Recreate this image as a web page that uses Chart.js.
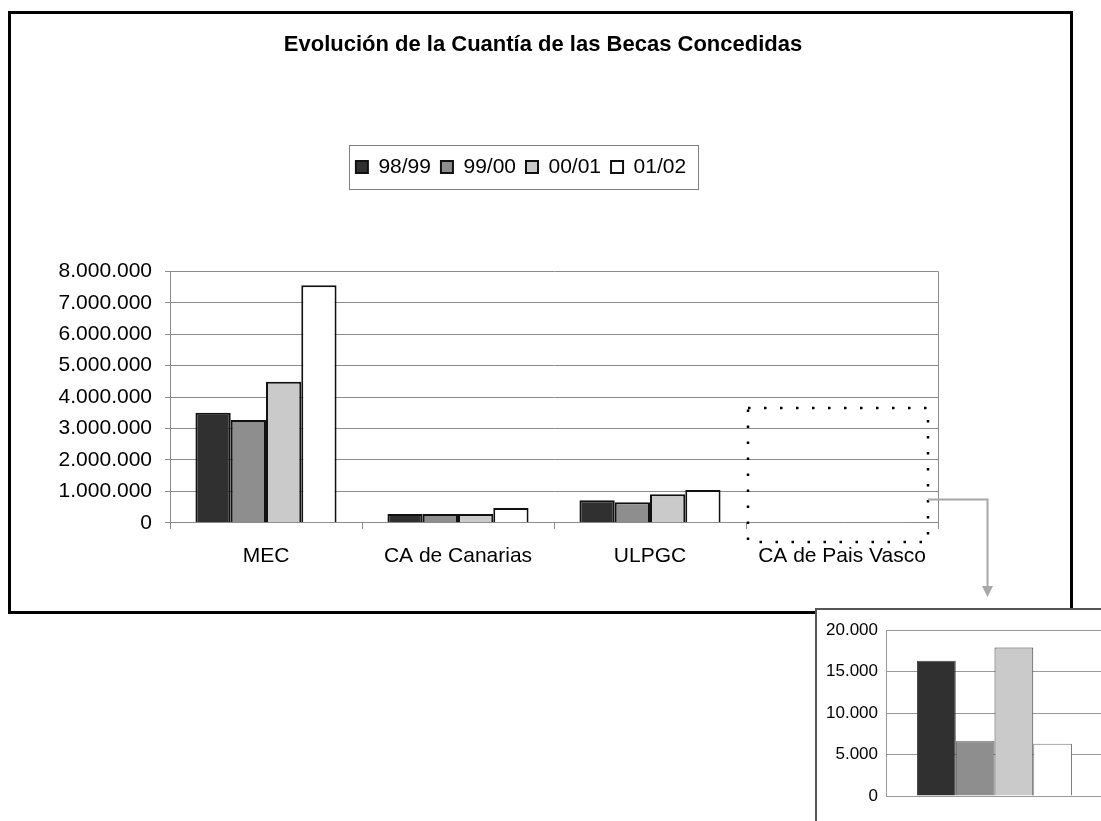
<!DOCTYPE html>
<html><head><meta charset="utf-8">
<script src="https://cdn.jsdelivr.net/npm/chart.js@4.4.1/dist/chart.umd.min.js"></script>
<style>
html,body{margin:0;padding:0;background:#fff;width:1101px;height:821px;overflow:hidden;position:relative}
#mainBox{position:absolute;left:8px;top:11px;width:1065px;height:603px;border:3px solid #000;box-sizing:border-box;background:#fff}
#insetBox{position:absolute;left:815px;top:608px;width:320px;height:240px;border:2px solid #555;box-sizing:border-box;background:#fff}
canvas{display:block}
</style></head><body>
<div id="mainBox"><canvas id="main" width="1059" height="597"></canvas></div>
<div id="insetBox"><canvas id="inset" width="300" height="230"></canvas></div>
<script>
const TITLE = 'Evolución de la Cuantía de las Becas Concedidas';
const CATEGORIES = ['MEC', 'CA de Canarias', 'ULPGC', 'CA de Pais Vasco'];
const SERIES_NAMES = ['98/99', '99/00', '00/01', '01/02'];
const S_9899 = [3500000, 280000, 720000, 16300];
const S_9900 = [3270000, 280000, 650000, 6600];
const S_0001 = [4490000, 280000, 910000, 17900];
const S_0102 = [7560000, 470000, 1040000, 6300];
const Y_TICK_STEP = 1000000, Y_MAX = 8000000;
const INSET_TICK_STEP = 5000, INSET_MAX = 20000;
const INSET_INDEX = 3;               // category shown enlarged
const ZOOM_BOX_TOP = 3650000;        // top of dotted highlight (value)
const ZOOM_ARROW_AT = 760000;        // arrow start (value)

const SERIES = [S_9899, S_9900, S_0001, S_0102];
const COLORS = ['#303030', '#8e8e8e', '#cacaca', '#ffffff'];
const FONT = '"Liberation Sans", Arial, sans-serif';
Chart.defaults.font.family = FONT;
Chart.defaults.color = '#000';

function fmt(v){ return String(v).replace(/\B(?=(\d{3})+(?!\d))/g, '.'); }

const TITLE_CENTER_X = 532, LEGEND_CENTER_X = 510;
const centerBoxes = {
  id: 'centerBoxes',
  afterLayout(chart){
    const shift = (box, cx) => { if (!box) return; const dx = cx - (box.left + box.right) / 2; box.left += dx; box.right += dx; };
    shift(chart.titleBlock, TITLE_CENTER_X);
    shift(chart.legend, LEGEND_CENTER_X);
  }
};
const plotFrame = {
  id: 'plotFrame',
  afterDatasetsDraw(chart){
    const {ctx, chartArea:a} = chart;
    ctx.save(); ctx.strokeStyle = '#8c8c8c'; ctx.lineWidth = 1;
    ctx.beginPath(); ctx.moveTo(Math.round(a.right)+0.5, a.top); ctx.lineTo(Math.round(a.right)+0.5, a.bottom); ctx.stroke();
    ctx.restore();
  }
};
const legendFrame = {
  id: 'legendFrame',
  afterDraw(chart){
    const lg = chart.legend; if (!lg || !lg.legendHitBoxes || !lg.legendHitBoxes.length) return;
    const hb = lg.legendHitBoxes, ctx = chart.ctx;
    const l = Math.min(...hb.map(h => h.left)) - 7;
    const r = Math.max(...hb.map(h => h.left + h.width)) + 12;
    const cy = hb[0].top + hb[0].height / 2;
    ctx.save(); ctx.strokeStyle = '#808080'; ctx.lineWidth = 1;
    ctx.strokeRect(Math.round(l) + 0.5, Math.round(cy - 22) + 0.5, Math.round(r - l), 44);
    ctx.restore();
  }
};
const zoomMark = {
  id: 'zoomMark',
  afterDraw(chart){
    const {ctx, chartArea:a, scales:{x, y}} = chart;
    const cw = (a.right - a.left) / CATEGORIES.length;
    const left = x.getPixelForValue(INSET_INDEX) - cw / 2 + 2;
    const right = a.right - 10;
    const top = y.getPixelForValue(ZOOM_BOX_TOP);
    const bottom = a.bottom + 19;
    ctx.save();
    ctx.strokeStyle = '#000'; ctx.lineWidth = 2.5; ctx.setLineDash([2.5, 13.5]);
    ctx.strokeRect(Math.round(left), Math.round(top), Math.round(right - left), Math.round(bottom - top));
    ctx.setLineDash([]);
    const ay = Math.round(y.getPixelForValue(ZOOM_ARROW_AT)) + 0.5;
    const ax = Math.round(right + 59) + 0.5;
    const tipY = chart.height - 14;
    ctx.strokeStyle = '#a8a8a8'; ctx.fillStyle = '#a8a8a8'; ctx.lineWidth = 2;
    ctx.beginPath(); ctx.moveTo(right, ay); ctx.lineTo(ax, ay); ctx.lineTo(ax, tipY - 8); ctx.stroke();
    ctx.beginPath(); ctx.moveTo(ax - 5.5, tipY - 11); ctx.lineTo(ax + 5.5, tipY - 11); ctx.lineTo(ax, tipY); ctx.closePath(); ctx.fill();
    ctx.restore();
  }
};

new Chart(document.getElementById('main'), {
  type: 'bar',
  data: {
    labels: CATEGORIES,
    datasets: SERIES.map((d, i) => ({
      label: SERIES_NAMES[i], data: d, backgroundColor: COLORS[i],
      borderColor: '#111', borderWidth: 2, categoryPercentage: 0.735, barPercentage: 1
    }))
  },
  options: {
    responsive: false, animation: false, devicePixelRatio: 1,
    layout: {padding: {left: 0, right: 132, top: 0, bottom: 27}},
    plugins: {
      title: {display: true, text: TITLE, color: '#000', font: {size: 22, weight: 'bold'}, padding: {top: 18, bottom: 88}},
      subtitle: {display: true, text: '', weight: 500, font: {size: 10}, padding: {top: 0, bottom: 72}},
      legend: {display: true, labels: {boxWidth: 12, boxHeight: 12, padding: 10, color: '#000', font: {size: 21}}},
      tooltip: {enabled: false}
    },
    scales: {
      x: {
        grid: {display: true, drawOnChartArea: false, drawTicks: true, tickLength: 6, color: '#8c8c8c'},
        border: {display: true, color: '#8c8c8c'},
        ticks: {padding: 15, color: '#000', font: {size: 21}}
      },
      y: {
        min: 0, max: Y_MAX,
        ticks: {stepSize: Y_TICK_STEP, padding: 13, color: '#000', font: {size: 21}, callback: fmt},
        grid: {color: '#8c8c8c', tickLength: 5},
        border: {display: true, color: '#8c8c8c'},
        afterFit(s){ s.width = 159; }
      }
    }
  },
  plugins: [centerBoxes, plotFrame, legendFrame, zoomMark]
});

new Chart(document.getElementById('inset'), {
  type: 'bar',
  data: {
    labels: [CATEGORIES[INSET_INDEX]],
    datasets: SERIES.map((d, i) => ({
      label: SERIES_NAMES[i], data: [d[INSET_INDEX]], backgroundColor: COLORS[i],
      borderColor: i === 3 ? '#777' : '#444', borderWidth: 1, categoryPercentage: 0.714, barPercentage: 1
    }))
  },
  options: {
    responsive: false, animation: false, devicePixelRatio: 1,
    layout: {padding: {left: 0, right: 14, top: 20, bottom: 44}},
    plugins: {legend: {display: false}, title: {display: false}, tooltip: {enabled: false}},
    scales: {
      x: {ticks: {display: false}, grid: {display: false, drawTicks: false}, border: {display: true, color: '#999'}},
      y: {
        min: 0, max: INSET_MAX,
        ticks: {stepSize: INSET_TICK_STEP, padding: 8, color: '#000', font: {size: 17}, callback: fmt},
        grid: {color: '#999', drawTicks: false},
        border: {display: true, color: '#999'},
        afterFit(s){ s.width = 69; }
      }
    }
  }
});
</script>
</body></html>
